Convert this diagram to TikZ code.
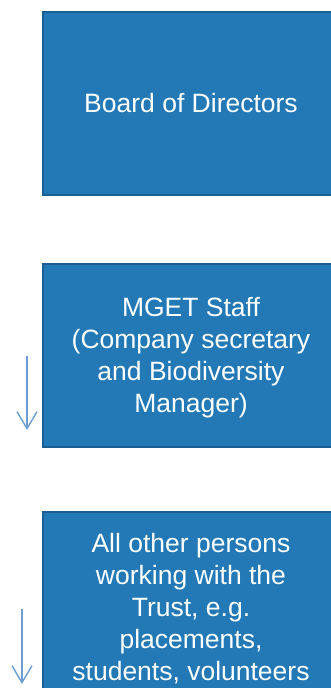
\documentclass[tikz,border=0pt]{standalone}
\usepackage{fontspec}
\setmainfont{Liberation Sans}
\usetikzlibrary{arrows.meta}
\definecolor{boxblue}{HTML}{2279B6}
\definecolor{boxedge}{HTML}{1A5F93}
\definecolor{arrowblue}{HTML}{6E9DD2}
\begin{document}
\begin{tikzpicture}[x=1pt,y=-1pt,
  orgbox/.style={fill=boxblue,draw=boxedge,line width=1.5pt},
  boxtext/.style={text=white,font=\fontsize{26.5pt}{32pt}\selectfont,align=center,inner sep=0pt},
  downarrow/.style={draw=arrowblue,line width=1.4pt,-{Straight Barb[length=17pt,width=20pt,line width=1.4pt]}}]
\useasboundingbox (0,0) rectangle (331,688);
\clip (0,0) rectangle (331,688);
\fill[white] (0,0) rectangle (331,688);
% boxes
\path[orgbox] (43,12) rectangle (339,195);
\path[orgbox] (43,264) rectangle (339,447);
\path[orgbox] (43,512) rectangle (339,705);
% texts
\node[boxtext] (board) at (191,103.5) {Board of Directors};
\node[boxtext,anchor=north] (staff) at (191,297.5) {MGET Staff\\(Company secretary\\and Biodiversity\\Manager)};
\node[boxtext,anchor=north] (others) at (191,533.5) {All other persons\\working with the\\Trust, e.g.\\placements,\\students, volunteers};
% arrows
\coordinate (a1s) at (27,356);
\coordinate (a1e) at (27,430);
\coordinate (a2s) at (22,609);
\coordinate (a2e) at (22,684);
\draw[downarrow] (a1s) -- (a1e);
\draw[downarrow] (a2s) -- (a2e);
\end{tikzpicture}
\end{document}
